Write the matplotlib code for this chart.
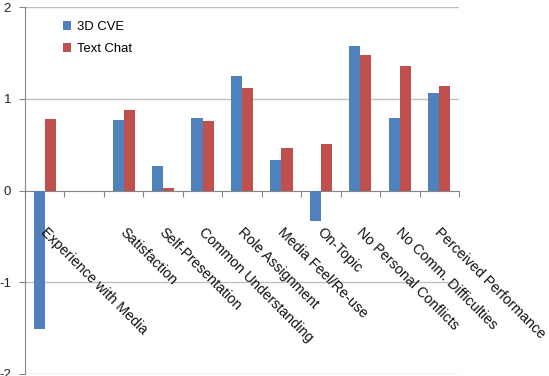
import matplotlib
matplotlib.use("Agg")
import matplotlib.pyplot as plt
import numpy as np

# categorie (la seconda e' vuota nel grafico originale)
categories = ["Experience with Media", "", "Satisfaction", "Self-Presentation",
              "Common Understanding", "Role Assignment", "Media Feel/Re-use",
              "On-Topic", "No Personal Conflicts", "No Comm. Difficulties",
              "Perceived Performance"]
cve_values = [-1.51, np.nan, 0.77, 0.27, 0.79, 1.25, 0.33, -0.33, 1.58, 0.79, 1.06]
chat_values = [0.78, np.nan, 0.88, 0.025, 0.76, 1.12, 0.46, 0.51, 1.475, 1.36, 1.14]
y_ticks = [-2, -1, 0, 1, 2]

blue = "#4F81BD"
red = "#C0504D"
grid_col = "#BFBFBF"
axis_col = "#868686"

plt.rcParams['font.family'] = ['Liberation Sans', 'DejaVu Sans']

fig = plt.figure(figsize=(5.49, 3.76), dpi=100)
ax = fig.add_axes([25 / 549, 1 - 374 / 376, (459 - 25) / 549, (374 - 7) / 376])

x = np.arange(len(categories))
w = 0.28
ax.bar(x - w / 2, cve_values, width=w, color=blue, label="3D CVE", zorder=3)
ax.bar(x + w / 2, chat_values, width=w, color=red, label="Text Chat", zorder=3)

ax.set_xlim(-0.5, len(categories) - 0.5)
ax.set_ylim(-2, 2)
ax.set_yticks(y_ticks)
ax.set_yticklabels([str(t) for t in y_ticks], fontsize=9.5, color="#222222")
ax.tick_params(axis='y', length=4, color=axis_col, pad=6)

# griglia orizzontale
for t in y_ticks:
    if t != 0:
        ax.axhline(t, color=grid_col, lw=1, zorder=1)

# asse x che passa per lo zero
ax.spines['bottom'].set_position(('data', 0))
ax.spines['bottom'].set_color(axis_col)
ax.spines['left'].set_color(axis_col)
ax.spines['top'].set_visible(False)
ax.spines['right'].set_visible(False)
ax.set_xticks(np.arange(len(categories) + 1) - 0.5)
ax.set_xticklabels([])
ax.tick_params(axis='x', length=4, color=axis_col, direction='out')

for i, lab in enumerate(categories):
    if lab:
        ax.annotate(lab, xy=(i, 0), xytext=(3, -35), textcoords='offset pixels',
                    rotation=-45, rotation_mode='anchor', ha='left', va='top',
                    fontsize=10.3, color="#111111")

ax.legend(loc='upper left', bbox_to_anchor=(63 / 549, 1 - 21 / 376),
          bbox_transform=fig.transFigure, frameon=False, fontsize=9.4,
          handlelength=0.65, handleheight=0.65, handletextpad=0.45,
          labelspacing=0.75, borderaxespad=0, borderpad=0)

fig.savefig("out.png", dpi=100)
